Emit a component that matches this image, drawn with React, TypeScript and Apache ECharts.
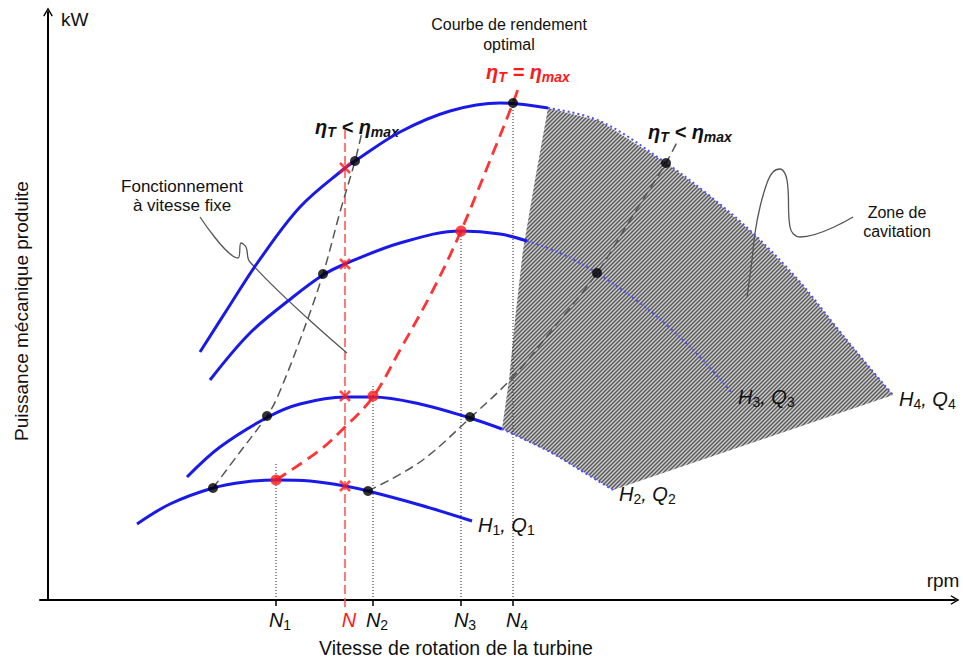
import React, { useEffect, useRef } from 'react';
import * as echarts from 'echarts';

const FONT = "'Liberation Sans', Arial, Helvetica, sans-serif";

// ---- curves, in axis units [rotation speed, mechanical power] ----
const h1Solid = [[89, 76], [122, 96], [165, 112], [197, 118], [228, 120], [262, 119], [297, 114], [320, 109], [372, 95], [424, 79]];
const h2Solid = [[139, 123], [172, 153], [220, 183], [252, 196], [297, 203], [325, 203], [372, 196], [422, 182], [454, 171]];
const h2Dotted = [[454, 171], [502, 148], [532, 130], [565, 110]];
const h3Solid = [[162, 220], [202, 267], [245, 303], [275, 325], [297, 336], [352, 357], [413, 369], [452, 366], [479, 359]];
const h3Dotted = [[479, 359], [512, 347], [549, 327], [592, 297], [622, 272], [652, 243], [684, 207]];
const h4Solid = [[152, 248], [182, 295], [210, 338], [252, 393], [297, 432], [307, 439], [352, 468], [402, 489], [452, 497], [500, 492]];
const h4Dotted = [[500, 492], [552, 479], [618, 437], [662, 404], [707, 365], [752, 318], [789, 272], [822, 232], [845, 205]];
const cavitationLeftEdge = [[500, 492], [487, 420], [475, 350], [467, 280], [461, 220], [454, 171]];

const optimalCurve = [[228, 120], [272, 150], [297, 173], [325, 203], [352, 250], [385, 310], [413, 369], [445, 447], [465, 497], [471, 514]];
const lowEffLeft = [[165, 112], [192, 148], [219, 184], [229, 202], [252, 260], [275, 326], [292, 388], [307, 439], [314, 468]];
const lowEffRight = [[320, 109], [372, 138], [422, 182], [465, 223], [504, 270], [549, 327], [582, 380], [618, 437], [630, 460]];

const fixedSpeedLine = [[297, -7], [297, 470]];

const speedValues = [228, 297, 325, 413, 465];
const speedSubs = ['1', '', '2', '3', '4'];
const guideTops = [138, null, 214, 369, 497];

const blackPoints = [[165, 112], [219, 184], [275, 326], [307, 439], [320, 109], [422, 183], [549, 327], [618, 437], [465, 497]];
const redPoints = [[228, 120], [325, 204], [413, 369]];
const crossPoints = [[297, 432], [297, 336], [297, 204], [297, 114]];

const fixedSpeedLeader = [[152, 383], [190, 342], [193, 357], [198, 353], [202, 338], [299, 247]];
const cavitationLeader = [[805, 383], [752, 363], [742, 373], [739, 420], [732, 431], [725, 428], [719, 417], [712, 393], [707, 367], [704, 340], [699, 303]];

const curveLabels = [
  { name: 'H1', sub: '1' },
  { name: 'H2', sub: '2' },
  { name: 'H3', sub: '3' },
  { name: 'H4', sub: '4' },
];

const BLUE = '#1a1ae8';
const BLUE_DOT = '#4d4dff';

const subRich = {
  h: { fontFamily: FONT, fontSize: 20, fontStyle: 'italic', color: '#111', lineHeight: 24 },
  s: { fontFamily: FONT, fontSize: 14, color: '#111', lineHeight: 14, verticalAlign: 'bottom' },
};

const etaRich = (color: string) => ({
  e: { fontFamily: FONT, fontSize: 20, fontWeight: 'bold', fontStyle: 'italic', fill: color, color, lineHeight: 24 },
  s: { fontFamily: FONT, fontSize: 14, fontWeight: 'bold', fontStyle: 'italic', fill: color, color, lineHeight: 14, verticalAlign: 'bottom' },
});

function line(data: number[][], color: string, width: number, type: any, z: number, smooth: any = 0.35, extra: any = {}) {
  return {
    type: 'line', data, showSymbol: false, symbol: 'none', smooth, clip: false, silent: true, z,
    lineStyle: { color, width, type }, ...extra,
  };
}

function hLabel(i: number) {
  const c = curveLabels[i];
  return {
    show: true,
    distance: 6,
    offset: [0, 4],
    formatter: () => `{h|H}{s|${c.sub}}{h|, Q}{s|${c.sub}}`,
    rich: subRich,
  };
}

export default function App() {
  const ref = useRef<HTMLDivElement>(null);
  useEffect(() => {
    if (!ref.current) return;
    const chart = echarts.init(ref.current, undefined, { renderer: 'svg' });

    const cv = document.createElement('canvas');
    cv.width = 4; cv.height = 4;
    const ctx = cv.getContext('2d')!;
    ctx.fillStyle = '#cdcdcd';
    ctx.fillRect(0, 0, 4, 4);
    ctx.strokeStyle = '#575757';
    ctx.lineWidth = 1.4;
    ctx.beginPath();
    ctx.moveTo(-1, 5); ctx.lineTo(5, -1);
    ctx.moveTo(-1, 1); ctx.lineTo(1, -1);
    ctx.moveTo(3, 5); ctx.lineTo(5, 3);
    ctx.stroke();
    const hatch = { image: cv, repeat: 'repeat' };

    const polygon = [...h2Dotted, ...h4Dotted.slice().reverse(), ...cavitationLeftEdge.slice(1)];

    const chevron = 'path://M5,0L10,8.5L8.8,9.3L5,2.8L1.2,9.3L0,8.5Z';

    const guideSeries = speedValues
      .map((v, i) => (guideTops[i] == null ? null : line([[v, 0], [v, guideTops[i] as number]], '#222', 1, [1, 2], 3, false)))
      .filter(Boolean);

    const option: any = {
      animation: false,
      grid: { left: 40, right: 8, top: 12, bottom: 65 },
      xAxis: {
        type: 'value', min: -8, max: 907,
        splitLine: { show: false },
        axisLine: { show: true, symbol: ['none', chevron], symbolSize: [11, 9], lineStyle: { color: '#000', width: 2 } },
        axisTick: { show: true, customValues: [228, 325, 413, 465], length: 6, lineStyle: { color: '#000', width: 1.5 } },
        axisLabel: {
          customValues: speedValues,
          margin: 8,
          padding: [0, 0, 0, 8],
          formatter: (v: number) => {
            const i = speedValues.indexOf(v);
            if (i < 0) return '';
            if (speedSubs[i] === '') return '{r|N}';
            return `{n|N}{s|${speedSubs[i]}}`;
          },
          rich: {
            n: { fontFamily: FONT, fontSize: 20, fontStyle: 'italic', color: '#111', lineHeight: 24 },
            r: { fontFamily: FONT, fontSize: 20, fontStyle: 'italic', color: '#ff1a1a', lineHeight: 24 },
            s: { fontFamily: FONT, fontSize: 14, color: '#111', lineHeight: 14, verticalAlign: 'bottom' },
          },
        },
      },
      yAxis: {
        type: 'value', min: 0, max: 588,
        splitLine: { show: false },
        axisLine: { show: true, onZero: true, symbol: ['none', chevron], symbolSize: [11, 9], lineStyle: { color: '#000', width: 2 } },
        axisTick: { show: false },
        axisLabel: { show: false },
      },
      series: [
        {
          type: 'custom', silent: true, z: 1, data: [[0, 0]],
          renderItem: (_p: any, api: any) => ({
            type: 'polygon',
            shape: { points: polygon.map((p) => api.coord(p)) },
            style: { fill: hatch, stroke: 'none' },
          }),
        },
        ...guideSeries,
        line(fixedSpeedLine, '#ff4d4d', 1.5, [9, 4], 4, false),
        line(lowEffLeft, '#555', 1.5, [9, 5], 5),
        line(lowEffRight, '#555', 1.5, [9, 5], 5),
        line(optimalCurve, '#ff3333', 2.8, [12, 7], 6),
        line(h2Dotted, BLUE_DOT, 2, [2, 3], 7, 0.35, { endLabel: hLabel(1) }),
        line(h3Dotted, BLUE_DOT, 2, [2, 3], 7, 0.35, { endLabel: hLabel(2) }),
        line(h4Dotted, BLUE_DOT, 2, [2, 3], 7, 0.35, { endLabel: hLabel(3) }),
        line(h1Solid, BLUE, 3, 'solid', 8, 0.35, { endLabel: hLabel(0) }),
        line(h2Solid, BLUE, 3, 'solid', 8),
        line(h3Solid, BLUE, 3, 'solid', 8),
        line(h4Solid, BLUE, 3, 'solid', 8),
        line(fixedSpeedLeader, '#555', 1.3, 'solid', 4, 0.4),
        line(cavitationLeader, '#555', 1.3, 'solid', 4, 0.4),
        { type: 'scatter', data: blackPoints, symbol: 'circle', symbolSize: 10, itemStyle: { color: '#000' }, z: 10, silent: true },
        { type: 'scatter', data: redPoints, symbol: 'circle', symbolSize: 11, itemStyle: { color: '#ff1a1a' }, z: 10, silent: true },
        {
          type: 'scatter', data: crossPoints, symbol: 'path://M0,0L10,10M10,0L0,10', symbolSize: 10,
          itemStyle: { color: 'transparent', borderColor: '#ff1a1a', borderWidth: 2.5 }, z: 10, silent: true,
        },
      ],
      graphic: [
        { type: 'text', x: 61, y: 19, style: { text: 'kW', font: `19px ${FONT}`, fill: '#111', textAlign: 'left', textVerticalAlign: 'middle', align: 'left', verticalAlign: 'middle' } },
        { type: 'text', x: 943, y: 580, style: { text: 'rpm', font: `19px ${FONT}`, fill: '#111', textAlign: 'center', textVerticalAlign: 'middle', align: 'center', verticalAlign: 'middle' } },
        { type: 'text', x: 21, y: 311, rotation: Math.PI / 2, style: { text: 'Puissance mécanique produite', font: `19px ${FONT}`, fill: '#111', textAlign: 'center', textVerticalAlign: 'middle', align: 'center', verticalAlign: 'middle' } },
        { type: 'text', x: 456, y: 648, style: { text: 'Vitesse de rotation de la turbine', font: `19.5px ${FONT}`, fill: '#111', textAlign: 'center', textVerticalAlign: 'middle', align: 'center', verticalAlign: 'middle' } },
        { type: 'text', x: 509, y: 34, style: { text: 'Courbe de rendement\noptimal', font: `16px ${FONT}`, lineHeight: 20, fill: '#111', textAlign: 'center', textVerticalAlign: 'middle', align: 'center', verticalAlign: 'middle' } },
        { type: 'text', x: 182, y: 196, style: { text: 'Fonctionnement\nà vitesse fixe', font: `17px ${FONT}`, lineHeight: 19, fill: '#111', textAlign: 'center', textVerticalAlign: 'middle', align: 'center', verticalAlign: 'middle' } },
        { type: 'text', x: 897, y: 222, style: { text: 'Zone de\ncavitation', font: `16px ${FONT}`, lineHeight: 19, fill: '#111', textAlign: 'center', textVerticalAlign: 'middle', align: 'center', verticalAlign: 'middle' } },
        { type: 'text', x: 528, y: 72, style: { text: '{e|η}{s|T}{e| = η}{s|max}', rich: etaRich('#ff1a1a'), textAlign: 'center', textVerticalAlign: 'middle', align: 'center', verticalAlign: 'middle' } },
        { type: 'text', x: 357, y: 127, style: { text: '{e|η}{s|T}{e| < η}{s|max}', rich: etaRich('#111'), textAlign: 'center', textVerticalAlign: 'middle', align: 'center', verticalAlign: 'middle' } },
        { type: 'text', x: 690, y: 132, style: { text: '{e|η}{s|T}{e| < η}{s|max}', rich: etaRich('#111'), textAlign: 'center', textVerticalAlign: 'middle', align: 'center', verticalAlign: 'middle' } },
      ],
    };
    chart.setOption(option);
    return () => chart.dispose();
  }, []);
  return <div ref={ref} style={{ position: 'fixed', left: 0, top: 0, width: 963, height: 665, background: '#fff' }} />;
}
